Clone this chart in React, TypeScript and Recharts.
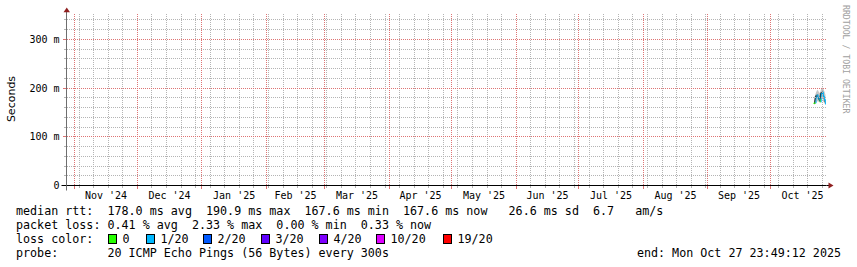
import React from 'react';
import { ComposedChart, Area, Bar, Cell, XAxis, YAxis, ReferenceLine, ReferenceDot } from 'recharts';

const DAY = 86400000;
const END = Date.UTC(2025, 9, 27, 23, 49, 12);
const START = END - 365 * DAY;
const Y_MAX = 354;

const MONO = '"DejaVu Sans Mono", monospace';
const GRID = '#b4b4b4';
const MGRID = '#de7474';
const ARROW = '#8f1f1f';

// month grid + labels (last entry only closes Oct '25)
const monthStarts = [
  '2024-11-01', '2024-12-01', '2025-01-01', '2025-02-01', '2025-03-01', '2025-04-01',
  '2025-05-01', '2025-06-01', '2025-07-01', '2025-08-01', '2025-09-01', '2025-10-01', '2025-11-01',
];
const monthLabels = [
  "Nov '24", "Dec '24", "Jan '25", "Feb '25", "Mar '25", "Apr '25",
  "May '25", "Jun '25", "Jul '25", "Aug '25", "Sep '25", "Oct '25",
];
const firstWeekLine = '2024-11-03';

const yMajor = [100, 200, 300];
const yMinor = [20, 40, 60, 80, 120, 140, 160, 180, 220, 240, 260, 280, 320, 340];
const yLabels: Record<number, string> = { 0: '0', 100: '100 m', 200: '200 m', 300: '300 m' };

// smokeping samples (ms)
const sampleTimes = [
  '2025-10-22T00:00Z', '2025-10-22T12:00Z', '2025-10-23T00:00Z', '2025-10-23T12:00Z',
  '2025-10-24T00:00Z', '2025-10-24T12:00Z', '2025-10-25T00:00Z', '2025-10-25T12:00Z',
  '2025-10-26T00:00Z', '2025-10-26T12:00Z', '2025-10-27T00:00Z', '2025-10-27T12:00Z',
];
const medianMs = [168.4, 170.1, 181.5, 185.2, 179.6, 176.0, 172.4, 188.3, 190.9, 183.0, 175.5, 167.6];
const smokeLo = [166.0, 166.8, 170.0, 173.0, 172.5, 171.8, 169.5, 176.0, 178.0, 172.0, 169.0, 166.0];
const smokeHi = [171.5, 185.0, 191.5, 196.0, 194.8, 190.0, 192.0, 199.5, 201.8, 198.0, 193.0, 186.0];
const coreLo = [167.5, 168.5, 179.0, 183.0, 177.5, 174.0, 171.0, 186.0, 188.5, 181.0, 173.5, 166.8];
const coreHi = [169.5, 184.5, 184.0, 188.0, 182.0, 178.0, 190.5, 191.0, 193.5, 186.0, 178.0, 169.0];
const lossPings = [0, 0, 1, 1, 1, 1, 0, 1, 1, 1, 1, 1];

const lossSteps = [0, 1, 2, 3, 4, 10, 19];
const lossLabels = ['0', '1/20', '2/20', '3/20', '4/20', '10/20', '19/20'];
const lossColors = ['#26ff00', '#00b8ff', '#0059ff', '#5e00ff', '#7e00ff', '#dd00ff', '#ff0000'];
const lossBoxX = [108, 146, 203, 261, 319, 376, 443];

const statLines = [
  'median rtt:  178.0 ms avg  190.9 ms max  167.6 ms min  167.6 ms now   26.6 ms sd  6.7   am/s',
  'packet loss: 0.41 % avg  2.33 % max  0.00 % min  0.33 % now',
  'loss color:',
  'probe:       20 ICMP Echo Pings (56 Bytes) every 300s',
];
const endText = 'end: Mon Oct 27 23:49:12 2025';

const monthTimes = monthStarts.map((s) => Date.parse(s));
const monthMajor = monthTimes.filter((t) => t > START && t < END);
const labelTimes = monthLabels.map((_, i) => (monthTimes[i] + monthTimes[i + 1]) / 2);
const weekMinor: number[] = [];
for (let t = Date.parse(firstWeekLine); t < END; t += 7 * DAY) {
  if (!monthMajor.includes(t)) weekMinor.push(t);
}
const xTicks = [...weekMinor, ...monthMajor, ...labelTimes].sort((a, b) => a - b);
const yTicks = [0, ...yMinor, ...yMajor].sort((a, b) => a - b);

const lossColor = (n: number) => {
  let idx = 0;
  lossSteps.forEach((s, i) => { if (n >= s) idx = i; });
  return lossColors[idx];
};

const rows = sampleTimes.map((s, i) => {
  const prev = i > 0 ? medianMs[i - 1] : medianMs[i];
  return {
    t: Date.parse(s),
    smoke: [smokeLo[i], smokeHi[i]],
    core: [coreLo[i], coreHi[i]],
    step: [Math.min(prev, medianMs[i]) - 1.4, Math.max(prev, medianMs[i]) + 1.4],
    loss: lossPings[i],
  };
});

// snap to pixel centres so 1px dots stay crisp, like rrdtool
const px = (v: number) => Math.floor(v) + 0.5;

const gridShape = (p: any) => {
  const { x1, x2, y1, y2, stroke } = p;
  if (Math.abs(y1 - y2) < 0.01) {
    const y = px(y1);
    return (
      <line x1={Math.ceil(Math.min(x1, x2))} x2={Math.floor(Math.max(x1, x2))} y1={y} y2={y}
        stroke={stroke} strokeDasharray="1 1" />
    );
  }
  const x = px(x1);
  return (
    <line x1={x} x2={x} y1={Math.floor(Math.max(y1, y2))} y2={Math.ceil(Math.min(y1, y2))}
      stroke={stroke} strokeDasharray="1 1" />
  );
};

const XTick = (props: any) => {
  const { x, y, payload } = props;
  const v = payload.value;
  const li = labelTimes.indexOf(v);
  if (li >= 0) {
    return (
      <text x={x} y={y + 13} textAnchor="middle" fontFamily={MONO} fontSize={10} fill="#000">
        {monthLabels[li]}
      </text>
    );
  }
  const major = monthMajor.includes(v);
  return (
    <line x1={px(x)} x2={px(x)} y1={Math.ceil(y)} y2={Math.ceil(y) + (major ? 3 : 2)}
      stroke={major ? MGRID : GRID} />
  );
};

const YTick = (props: any) => {
  const { x, y, payload } = props;
  const v = payload.value;
  const major = v % 100 === 0;
  return (
    <g>
      {v !== 0 && (
        <line x1={Math.floor(x) - (major ? 3 : 2)} x2={Math.floor(x)} y1={px(y)} y2={px(y)}
          stroke={major ? MGRID : GRID} />
      )}
      {yLabels[v] !== undefined && (
        <text x={x - 7} y={y + 3.6} textAnchor="end" fontFamily={MONO} fontSize={10} fill="#000">
          {yLabels[v]}
        </text>
      )}
    </g>
  );
};

export default function App() {
  return (
    <div style={{ position: 'absolute', left: 0, top: 0, width: 857, height: 267, background: '#fff' }}>
      <ComposedChart
        width={857}
        height={267}
        data={rows}
        margin={{ top: 13, right: 30.5, bottom: 0, left: 0 }}
      >
        <XAxis
          dataKey="t"
          type="number"
          domain={[START, END]}
          allowDataOverflow
          ticks={xTicks}
          interval={0}
          height={81.5}
          tickSize={0}
          tickMargin={0}
          tickLine={false}
          axisLine={{ stroke: '#000' }}
          tick={(p: any) => <XTick {...p} />}
        />
        <YAxis
          type="number"
          domain={[0, Y_MAX]}
          allowDataOverflow
          ticks={yTicks}
          interval={0}
          width={66.5}
          tickSize={0}
          tickMargin={0}
          tickLine={false}
          axisLine={{ stroke: '#6e6e6e' }}
          tick={(p: any) => <YTick {...p} />}
        />
        {yMinor.map((v) => (
          <ReferenceLine key={'hy' + v} y={v} stroke={GRID} shape={gridShape} />
        ))}
        {weekMinor.map((v) => (
          <ReferenceLine key={'vx' + v} x={v} stroke={GRID} shape={gridShape} />
        ))}
        {yMajor.map((v) => (
          <ReferenceLine key={'my' + v} y={v} stroke={MGRID} shape={gridShape} />
        ))}
        {monthMajor.map((v) => (
          <ReferenceLine key={'mx' + v} x={v} stroke={MGRID} shape={gridShape} />
        ))}
        <Area dataKey="smoke" type="linear" stroke="none" fill="#c6c6c6" fillOpacity={1} isAnimationActive={false} />
        <Area dataKey="core" type="linear" stroke="none" fill="#262626" fillOpacity={1} isAnimationActive={false} />
        <Bar dataKey="step" barSize={2} isAnimationActive={false}>
          {rows.map((r, i) => (
            <Cell key={i} fill={lossColor(r.loss)} />
          ))}
        </Bar>
        <ReferenceDot
          x={START}
          y={0}
          r={1}
          ifOverflow="visible"
          shape={(p: any) => (
            <g>
              <line x1={p.cx - 5} x2={p.cx} y1={p.cy} y2={p.cy} stroke="#000" />
              <line x1={p.cx} x2={p.cx} y1={p.cy} y2={p.cy + 5} stroke="#6e6e6e" />
            </g>
          )}
        />
        <ReferenceDot
          x={END}
          y={0}
          r={1}
          ifOverflow="visible"
          shape={(p: any) => (
            <g>
              <line x1={p.cx} x2={p.cx + 2.5} y1={p.cy} y2={p.cy} stroke="#000" />
              <polygon points={`${p.cx + 2},${p.cy - 3} ${p.cx + 2},${p.cy + 3} ${p.cx + 7},${p.cy}`} fill={ARROW} />
            </g>
          )}
        />
        <ReferenceDot
          x={START}
          y={Y_MAX}
          r={1}
          ifOverflow="visible"
          shape={(p: any) => (
            <g>
              <line x1={p.cx} x2={p.cx} y1={p.cy - 2} y2={p.cy} stroke="#6e6e6e" />
              <polygon
                points={`${p.cx - 3},${p.cy - 0.7} ${p.cx + 3.5},${p.cy - 0.7} ${p.cx + 0.25},${p.cy - 5.5}`}
                fill={ARROW}
              />
            </g>
          )}
        />
      </ComposedChart>
      <svg
        width={857}
        height={267}
        style={{ position: 'absolute', left: 0, top: 0, pointerEvents: 'none' }}
      >
        <text
          x={15}
          y={99}
          transform="rotate(-90 15 99)"
          textAnchor="middle"
          fontFamily='"DejaVu Sans", sans-serif'
          fontSize={11}
          fill="#000"
        >
          Seconds
        </text>
        <text
          x={843}
          y={5}
          transform="rotate(90 843 5)"
          fontFamily={MONO}
          fontSize={8.2}
          fill="#a0a0a0"
          style={{ whiteSpace: 'pre' }}
        >
          RRDTOOL / TOBI OETIKER
        </text>
        {statLines.map((s, i) => (
          <text key={i} x={16} y={215 + i * 14} fontFamily={MONO} fontSize={11.7} fill="#000" style={{ whiteSpace: 'pre' }}>
            {s}
          </text>
        ))}
        {lossLabels.map((l, i) => (
          <g key={l}>
            <rect x={lossBoxX[i] + 0.5} y={234.5} width={8} height={9} fill={lossColors[i]} stroke="#000" />
            <text x={lossBoxX[i] + 14.5} y={243} fontFamily={MONO} fontSize={11.7} fill="#000">
              {l}
            </text>
          </g>
        ))}
        <text x={841} y={257} textAnchor="end" fontFamily={MONO} fontSize={11.7} fill="#000" style={{ whiteSpace: 'pre' }}>
          {endText}
        </text>
      </svg>
    </div>
  );
}
